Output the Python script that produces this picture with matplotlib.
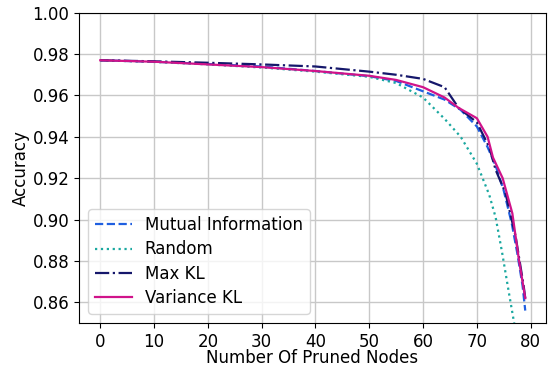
import matplotlib
matplotlib.use("Agg")
import matplotlib.pyplot as plt

x_mi = [0, 10, 20, 30, 40, 50, 55, 60, 64, 67, 70, 72, 73.5, 75, 76.5, 77.5, 78.5, 79]
y_mi = [0.977, 0.9763, 0.9752, 0.974, 0.9718, 0.9693, 0.967, 0.962, 0.958, 0.953, 0.945, 0.935, 0.926, 0.914, 0.898, 0.884, 0.868, 0.856]

x_rand = [0, 10, 20, 30, 40, 50, 55, 60, 64, 67, 70, 72.3, 73.5, 74.7, 76, 77]
y_rand = [0.977, 0.9762, 0.975, 0.9735, 0.9715, 0.969, 0.966, 0.959, 0.9487, 0.940, 0.927, 0.912, 0.901, 0.884, 0.864, 0.849]

x_max = [0, 10, 20, 30, 40, 50, 55, 60, 64, 66.6, 70, 72.3, 73.5, 75.3, 77.2, 78.7, 79]
y_max = [0.977, 0.9765, 0.9758, 0.975, 0.974, 0.9715, 0.970, 0.968, 0.964, 0.954, 0.947, 0.935, 0.924, 0.913, 0.892, 0.868, 0.862]

x_var = [0, 10, 20, 30, 40, 50, 55, 60, 64, 66.6, 70, 72, 73, 74.8, 76.6, 77.8, 79]
y_var = [0.977, 0.9763, 0.975, 0.9737, 0.9718, 0.9695, 0.9675, 0.964, 0.959, 0.954, 0.949, 0.940, 0.930, 0.920, 0.903, 0.881, 0.862]

labels = ["Mutual Information", "Random", "Max KL", "Variance KL"]
xticks = [0, 10, 20, 30, 40, 50, 60, 70, 80]
yticks = [0.86, 0.88, 0.90, 0.92, 0.94, 0.96, 0.98, 1.00]

fig = plt.figure(figsize=(5.48, 3.67), dpi=100)
ax = fig.add_axes([0.1442, 0.1199, 0.8516, 0.8455])
ax.plot(x_mi, y_mi, linestyle="--", color="#1f5fe0", lw=1.6, label=labels[0])
ax.plot(x_rand, y_rand, linestyle=":", color="#1aa8a0", lw=1.6, label=labels[1])
ax.plot(x_max, y_max, linestyle="-.", color="#15176b", lw=1.6, label=labels[2])
ax.plot(x_var, y_var, linestyle="-", color="#d0138a", lw=1.6, label=labels[3])
ax.set_ylim(0.85, 1.0)
ax.set_xlim(-3.95, 82.8)
ax.set_xticks(xticks)
ax.set_yticks(yticks)
ax.set_yticklabels([f"{v:.2f}" for v in yticks])
ax.grid(True, color="#c8c8c8", lw=1)
ax.tick_params(labelsize=12)
ax.set_xlabel("Number Of Pruned Nodes", fontsize=12, labelpad=-1)
ax.set_ylabel("Accuracy", fontsize=12, labelpad=2)
ax.legend(loc="lower left", fontsize=12, handlelength=2.2, labelspacing=0.38,
          borderaxespad=0.55)
fig.savefig("out.png", dpi=100)
